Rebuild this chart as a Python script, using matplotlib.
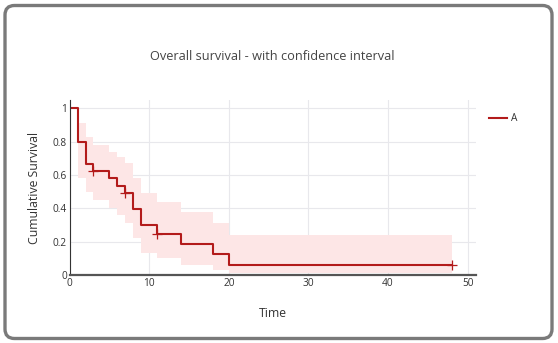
import matplotlib
matplotlib.use("Agg")
import matplotlib.pyplot as plt
from matplotlib.patches import FancyBboxPatch

# Data
times = [0, 1, 2, 3, 5, 6, 7, 8, 9, 11, 14, 18, 20, 48]
surv = [1.0, 0.8, 0.667, 0.625, 0.58, 0.535, 0.49, 0.395, 0.30, 0.245, 0.185, 0.125, 0.062, 0.062]
upper = [1.0, 0.91, 0.83, 0.78, 0.74, 0.71, 0.67, 0.58, 0.49, 0.44, 0.38, 0.31, 0.24, 0.24]
lower = [1.0, 0.58, 0.50, 0.45, 0.40, 0.36, 0.31, 0.22, 0.13, 0.10, 0.06, 0.03, 0.01, 0.01]
censor_t = [3, 7, 11, 48]
censor_s = [0.625, 0.49, 0.245, 0.062]
x_ticks = [0, 10, 20, 30, 40, 50]
y_ticks = [0, 0.2, 0.4, 0.6, 0.8, 1]
y_tick_labels = ["0", "0.2", "0.4", "0.6", "0.8", "1"]

plt.rcParams['font.family'] = ['Open Sans', 'DejaVu Sans']

fig = plt.figure(figsize=(5.58, 3.43), dpi=100)
fig.patch.set_facecolor("white")

# rounded gray frame
frame = FancyBboxPatch((5 / 558, 4.5 / 343), 547 / 558, 333 / 343,
                       boxstyle="round,pad=0,rounding_size=0.017",
                       transform=fig.transFigure, facecolor="none",
                       edgecolor="#7a7a7a", linewidth=2.4, zorder=5,
                       mutation_aspect=558 / 343)
fig.patches.append(frame)

ax = fig.add_axes([69.6 / 558, 68 / 343, 406 / 558, 175 / 343])
ax.set_facecolor("none")

red = "#b31b1b"
ax.fill_between(times, lower, upper, step="post", color="#fde6e6", linewidth=0)
ax.step(times, surv, where="post", color=red, linewidth=1.5, label="A")
ax.plot(censor_t, censor_s, linestyle="none", marker="+", markersize=7,
        markeredgewidth=0.9, color=red)

ax.set_xlim(0, 51)
ax.set_ylim(0, 1.05)
ax.set_xticks(x_ticks)
ax.set_yticks(y_ticks)
ax.set_yticklabels(y_tick_labels)
ax.grid(True, color="#e8e8ec", linewidth=0.8)
ax.set_axisbelow(True)
for s in ["top", "right"]:
    ax.spines[s].set_visible(False)
ax.spines["bottom"].set_color("#555555")
ax.spines["bottom"].set_linewidth(1.6)
ax.spines["left"].set_color("#333333")
ax.spines["left"].set_linewidth(0.8)
ax.tick_params(axis="both", length=0, labelsize=7.3, colors="#333333", pad=2)

ax.set_xlabel("Time", fontsize=8.8, color="#333333", labelpad=13)
ax.set_ylabel("Cumulative Survival", fontsize=8.8, color="#333333", labelpad=8)

fig.text(272 / 558, 1 - 56 / 343, "Overall survival - with confidence interval",
         ha="center", va="center", fontsize=9.2, color="#444444")

ax.legend(loc="upper left", bbox_to_anchor=(480 / 558, 1 - 104 / 343),
          bbox_transform=fig.transFigure, frameon=False, fontsize=7.3,
          handlelength=1.8, handletextpad=0.4, labelcolor="#333333")

fig.savefig("out.png", dpi=100, facecolor="white")
